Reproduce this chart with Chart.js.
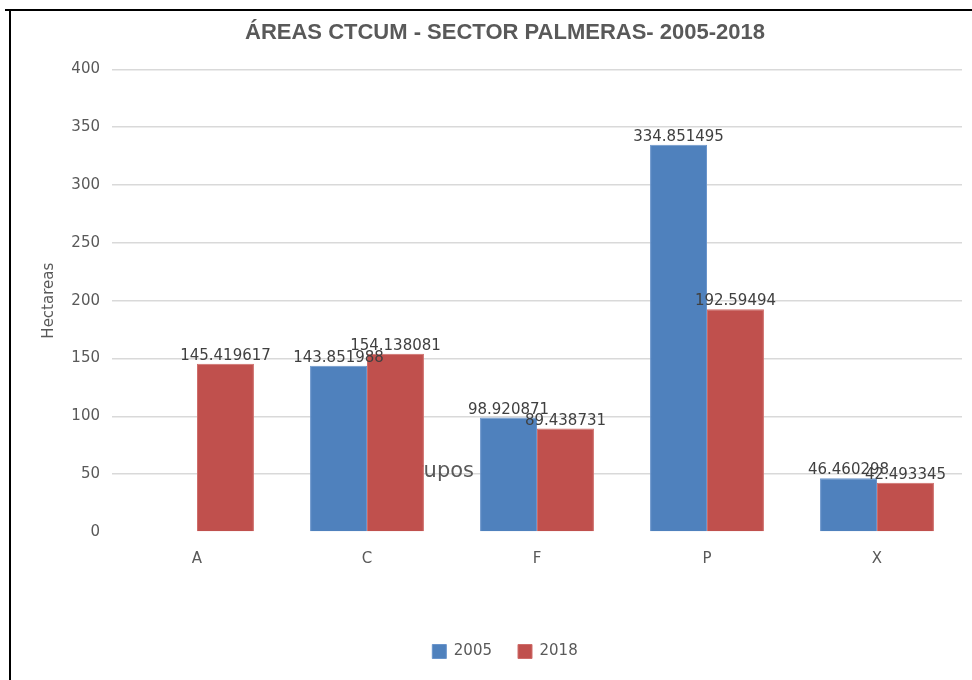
<!DOCTYPE html>
<html>
<head>
<meta charset="utf-8">
<script src="https://cdn.jsdelivr.net/npm/chart.js@4"></script>
<style>
  html, body { margin: 0; padding: 0; background: #fff; }
  #wrap { position: relative; width: 972px; height: 680px; overflow: hidden; }
  #chart { position: absolute; left: 0; top: 0; }
  .edge { position: absolute; background: #000; }
</style>
</head>
<body>
<div id="wrap">
  <canvas id="chart" width="972" height="680"></canvas>
  <div class="edge" style="left:5px;top:9px;width:967px;height:2px"></div>
  <div class="edge" style="left:9px;top:9px;width:2px;height:671px"></div>
</div>
<script>
const groups = ["A", "C", "F", "P", "X"];
const areas2005 = [null, 143.851988, 98.920871, 334.851495, 46.460298];
const areas2018 = [145.419617, 154.138081, 89.438731, 192.59494, 42.493345];
const yTicks = [0, 50, 100, 150, 200, 250, 300, 350, 400];

const textFont = "'DejaVu Sans', Verdana, sans-serif";

const valueLabels = {
    id: "valueLabels",
    afterDatasetsDraw(chart) {
        const ctx = chart.ctx;
        ctx.save();
        ctx.font = "15px " + textFont;
        ctx.fillStyle = "#404040";
        ctx.textAlign = "center";
        ctx.textBaseline = "alphabetic";
        chart.data.datasets.forEach((ds, i) => {
            chart.getDatasetMeta(i).data.forEach((bar, j) => {
                const v = ds.data[j];
                if (v === null) return;
                ctx.fillText(String(v), bar.x, bar.y - 4);
            });
        });
        ctx.restore();
    },
};

// stray axis title left behind the bars in the original
const hiddenTitle = {
    id: "hiddenTitle",
    beforeDatasetsDraw(chart) {
        const ctx = chart.ctx;
        ctx.save();
        ctx.font = "21px " + textFont;
        ctx.fillStyle = "#595959";
        ctx.textAlign = "right";
        ctx.textBaseline = "middle";
        ctx.fillText("Grupos", 474, 472);
        ctx.restore();
    },
};

new Chart(document.getElementById("chart").getContext("2d"), {
    type: "bar",
    data: {
        labels: groups,
        datasets: [
            {
                label: "2005",
                data: areas2005,
                backgroundColor: "#4F81BD",
                borderColor: "#6a95cc",
                borderWidth: 1,
            },
            {
                label: "2018",
                data: areas2018,
                backgroundColor: "#C0504D",
                borderColor: "#cf6d6a",
                borderWidth: 1,
            },
        ],
    },
    options: {
        responsive: false,
        animation: false,
        devicePixelRatio: 1,
        layout: { padding: { left: 48, right: 10, top: 20, bottom: 11 } },
        datasets: {
            bar: { categoryPercentage: 0.67, barPercentage: 1 },
        },
        plugins: {
            title: {
                display: true,
                text: "ÁREAS CTCUM - SECTOR PALMERAS- 2005-2018",
                color: "#595959",
                font: { family: "'Liberation Sans', Arial, sans-serif", size: 22, weight: "bold" },
                padding: { top: 0, bottom: 23 },
            },
            legend: {
                position: "bottom",
                labels: {
                    boxWidth: 14,
                    boxHeight: 14,
                    padding: 26,
                    color: "#595959",
                    font: { family: textFont, size: 15 },
                },
            },
            tooltip: { enabled: false },
        },
        scales: {
            x: {
                grid: { display: false },
                border: { display: false },
                ticks: { color: "#595959", padding: 10, font: { family: textFont, size: 15 } },
                afterFit(scale) { scale.height = 86; },
            },
            y: {
                min: 0,
                max: 400,
                afterBuildTicks(scale) { scale.ticks = yTicks.map(v => ({ value: v })); },
                grid: {
                    drawTicks: false,
                    color: ctx => (ctx.tick && ctx.tick.value === 0 ? "rgba(0,0,0,0)" : "#d9d9d9"),
                    lineWidth: 1.5,
                },
                border: { display: false },
                ticks: { color: "#595959", padding: 12, font: { family: textFont, size: 15 } },
                title: {
                    display: true,
                    text: "Hectareas",
                    color: "#595959",
                    font: { family: textFont, size: 15 },
                    padding: { top: -8, bottom: 0 },
                },
                afterFit(scale) { scale.width = 64; },
            },
        },
    },
    plugins: [hiddenTitle, valueLabels],
});
</script>
</body>
</html>
